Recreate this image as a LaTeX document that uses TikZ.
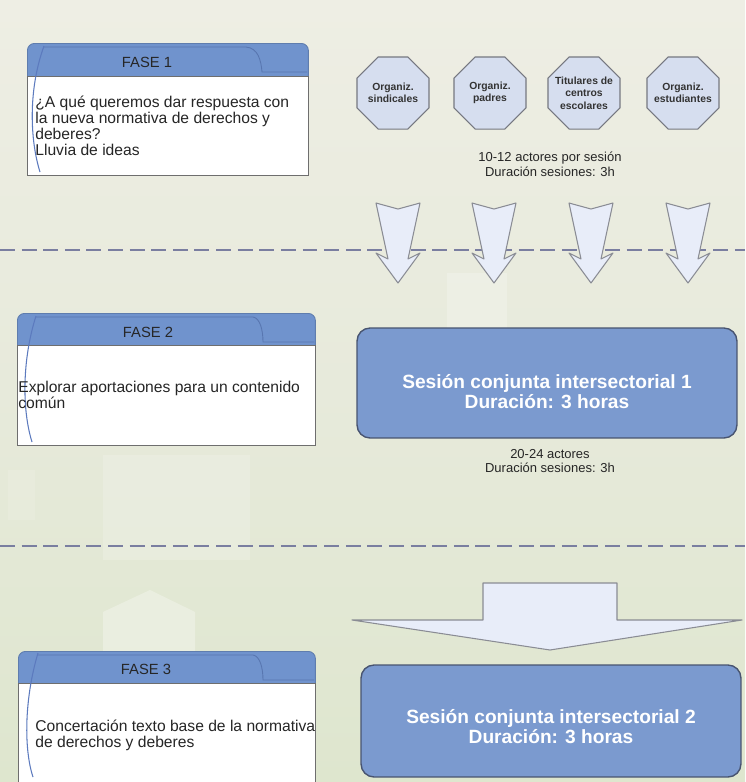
\documentclass[tikz,border=0pt]{standalone}
\usepackage{fontspec}
\setmainfont{Liberation Sans}
\usetikzlibrary{shapes.geometric}

\definecolor{bgtop}{RGB}{238,238,228}
\definecolor{bgmid}{RGB}{231,234,219}
\definecolor{bgbot}{RGB}{222,230,206}
\definecolor{hdrblue}{RGB}{112,147,205}
\definecolor{tabblue}{RGB}{88,118,176}
\definecolor{arcblue}{RGB}{92,122,190}
\definecolor{sessblue}{RGB}{123,154,207}
\definecolor{sessline}{RGB}{72,84,112}
\definecolor{octfill}{RGB}{214,222,239}
\definecolor{octline}{RGB}{118,120,128}
\definecolor{arrfill}{RGB}{232,237,249}
\definecolor{arrline}{RGB}{138,140,148}
\definecolor{dashcol}{RGB}{122,126,160}
\definecolor{bodyline}{RGB}{110,110,110}

\begin{document}
\begin{tikzpicture}[x=0.02cm,y=-0.02cm,
 hdrbox/.style={fill=hdrblue, draw=hdrblue!85!black, line width=0.5pt, rounded corners=4pt, inner sep=0pt, anchor=north west},
 bodybox/.style={fill=white, draw=bodyline, line width=0.6pt, inner sep=0pt, anchor=north west},
 tabline/.style={draw=tabblue, line width=0.5pt},
 arcline/.style={draw=arcblue, line width=0.6pt},
 hdrtext/.style={font=\fontsize{8.4}{9}\selectfont, text=black!85},
 bodytext/.style={font=\fontsize{8.9}{9.1}\selectfont, align=left, anchor=west, inner sep=0pt, text=black!85},
 octtext/.style={align=center, inner sep=0pt, font=\bfseries\fontsize{5.9}{7.1}\selectfont, text=black!80},
 octa/.style={regular polygon, regular polygon sides=8, minimum size=1.56cm, inner sep=0pt, fill=octfill, draw=octline, line width=0.6pt, label={[octtext]center:#1}},
 caption/.style={align=center, font=\fontsize{7.4}{8.5}\selectfont, text=black!85},
 sessbox/.style={fill=sessblue, draw=sessline, line width=0.8pt, rounded corners=7.4pt, minimum width=7.6cm},
 sesstext/.style={text=white, align=center, font=\bfseries\fontsize{10.9}{11.4}\selectfont},
 blockarrow/.style={fill=arrfill, draw=arrline, line width=0.6pt, line join=round},
 phaseline/.style={draw=dashcol, line width=1.6pt, dash pattern=on 8.5pt off 3.8pt}]

\useasboundingbox (0,0) rectangle (745,782);
\shade[top color=bgtop, bottom color=bgbot, middle color=bgmid] (0,0) rectangle (745,782);

\fill[white, opacity=0.18] (103,455) rectangle (250,560);
\fill[white, opacity=0.22] (447,273) rectangle (507,330);
\fill[white, opacity=0.3] (103,652) -- (103,612) -- (150,590) -- (195,612) -- (195,652) -- cycle;
\fill[white, opacity=0.12] (8,470) rectangle (35,520);

\draw[phaseline] (0,250) -- (745,250);
\draw[phaseline] (0,546) -- (745,546);

\node[hdrbox, minimum width=5.62cm, minimum height=0.82cm] (f1h) at (27,43) {};
\node[bodybox, minimum width=5.62cm, minimum height=1.98cm] (f1b) at (27,76) {};
\draw[tabline] (43,47) -- (246,47) .. controls (258,48) and (261,60) .. (262,72) -- (307,72);
\draw[arcline] (44,46) .. controls (28,90) and (30,140) .. (40,172);
\node[hdrtext] (f1t) at (147,62) {FASE 1};
\node[bodytext] (f1x) at (35,126) {¿A qué queremos dar respuesta con\\la nueva normativa de derechos y\\deberes?\\Lluvia de ideas};

\node[hdrbox, minimum width=5.96cm, minimum height=0.8cm] (f2h) at (17,313) {};
\node[bodybox, minimum width=5.96cm, minimum height=2.0cm] (f2b) at (17,345) {};
\draw[tabline] (36,317) -- (253,317) .. controls (260,318) and (263,330) .. (263,342) -- (314,342);
\draw[arcline] (36,316) .. controls (22,360) and (22,410) .. (32,442);
\node[hdrtext] (f2t) at (148,332) {FASE 2};
\node[bodytext] (f2x) at (18,395) {Explorar aportaciones para un contenido\\común};

\node[hdrbox, minimum width=5.94cm, minimum height=0.8cm] (f3h) at (18,651) {};
\node[bodybox, minimum width=5.94cm, minimum height=2.4cm] (f3b) at (18,683) {};
\draw[tabline] (38,655) -- (253,655) .. controls (260,656) and (263,668) .. (263,680) -- (314,680);
\draw[arcline] (38,653) .. controls (24,700) and (24,750) .. (33,777);
\node[hdrtext] (f3t) at (146,669) {FASE 3};
\node[bodytext] (f3x) at (35,735) {Concertación texto base de la normativa\\de derechos y deberes};

\node[octa={Organiz.\\sindicales}] (sind) at (393,93) {};
\node[octa={Organiz.\\padres}] (padr) at (490,93) {};
\node[octa={Titulares de\\centros\\escolares}] (titu) at (584,93) {};
\node[octa={Organiz.\\estudiantes}] (estu) at (683,93) {};
\node[caption] (cap1) at (550,164) {10-12 actores por sesión\\Duración sesiones: 3h};

\foreach \x in {398,494,591,688} {
 \draw[blockarrow] ({\x-22},203) -- ({\x},209) -- ({\x+22},203) -- ({\x+10},259) -- ({\x+22},253) -- ({\x},283) -- ({\x-22},253) -- ({\x-10},259) -- cycle;
}

\node[sessbox, minimum height=2.2cm] (ses1) at (547,383) {};
\node[sesstext] (ses1t) at (547,392) {Sesión conjunta intersectorial 1\\Duración: 3 horas};
\node[caption] (cap2) at (550,461) {20-24 actores\\Duración sesiones: 3h};

\draw[blockarrow] (483,583) -- (617,583) -- (617,620) -- (742,620) -- (550,650) -- (352,620) -- (483,620) -- cycle;

\node[sessbox, minimum height=2.24cm] (ses2) at (551,721) {};
\node[sesstext] (ses2t) at (551,727) {Sesión conjunta intersectorial 2\\Duración: 3 horas};
\end{tikzpicture}
\end{document}
